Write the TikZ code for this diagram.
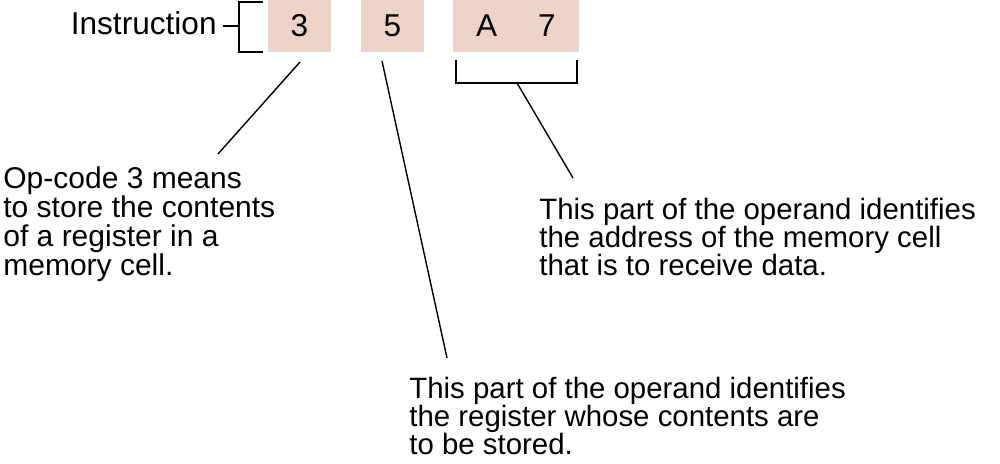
\documentclass[tikz,border=0pt]{standalone}
\usepackage{fontspec}
\setmainfont{Liberation Sans}
\definecolor{cellfill}{RGB}{237,211,199}
\begin{document}
\begin{tikzpicture}[x=0.5pt,y=-0.5pt,
  cell/.style={fill=cellfill,draw=none,inner sep=0pt,minimum height=26pt,font=\fontsize{15.8}{14}\selectfont},
  caption/.style={inner sep=0pt,align=left,font=\fontsize{14.7}{14}\selectfont},
  wire/.style={line width=0.7pt}]
\useasboundingbox (0,0) rectangle (1000,464);
% cells
\node[cell,minimum width=31.5pt] (c3) at (299.5,26) {3};
\node[cell,minimum width=31.5pt] (c5) at (392.5,26) {5};
\node[cell,minimum width=63pt] (ca7) at (516,26) {A\hspace{20.5pt}7};
% instruction label
\node[inner sep=0pt,anchor=base east,font=\fontsize{15.8}{14}\selectfont] (instr) at (217,35) {Instruction};
% instruction bracket
\coordinate (bt) at (263,2);
\coordinate (bb) at (263,52);
\coordinate (bm) at (239,26);
\coordinate (tick) at (223,26);
\draw[wire] (bt) -- (239,2) -- (239,52) -- (bb);
\draw[wire] (tick) -- (bm);
% operand bracket
\coordinate (ol) at (456,60);
\coordinate (or) at (577,60);
\coordinate (om) at (517,83);
\draw[wire] (ol) -- (456,83) -- (577,83) -- (or);
% captions (anchored at the baseline of their last line)
\node[caption,anchor=base west,font=\fontsize{15}{14.5}\selectfont] (t1) at (3,276) {Op-code 3 means\\to store the contents\\of a register in a\\memory cell.};
\node[caption,anchor=base west] (t2) at (539,276) {This part of the operand identifies\\the address of the memory cell\\that is to receive data.};
\node[caption,anchor=base west] (t3) at (409,454) {This part of the operand identifies\\the register whose contents are\\to be stored.};
% connectors
\coordinate (a1) at (300,62);
\coordinate (e1) at (218,154);
\coordinate (a2) at (382,61);
\coordinate (e2) at (447,358);
\coordinate (e3) at (573,178);
\draw[wire] (a1) -- (e1);
\draw[wire] (a2) -- (e2);
\draw[wire] (om) -- (e3);
\end{tikzpicture}
\end{document}
